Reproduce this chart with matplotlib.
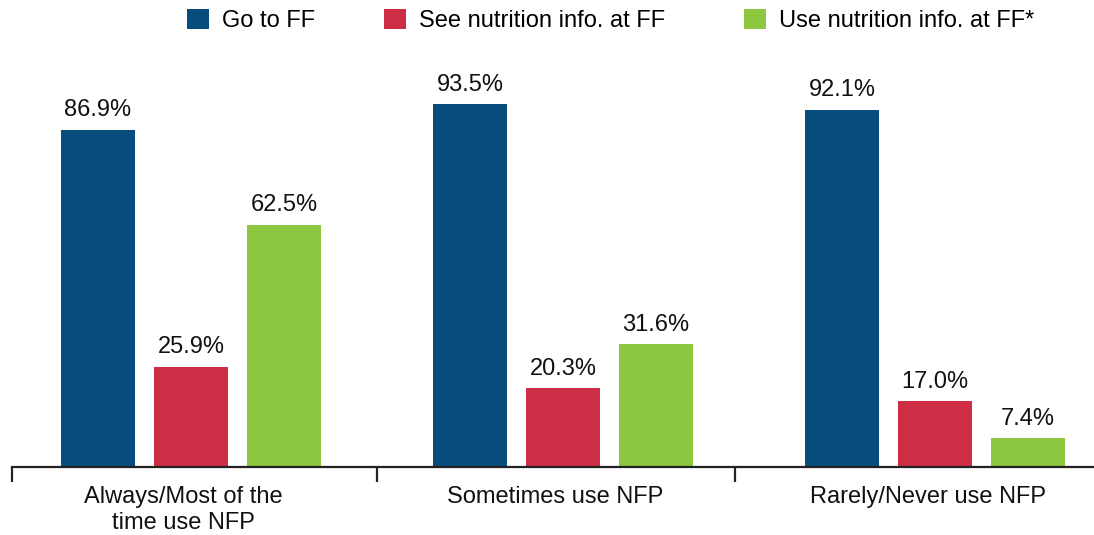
import matplotlib
matplotlib.use("Agg")
import matplotlib.pyplot as plt
import numpy as np

plt.rcParams['font.family'] = ['Liberation Sans', 'DejaVu Sans']

categories = ["Always/Most of the\ntime use NFP", "Sometimes use NFP", "Rarely/Never use NFP"]
series_names = ["Go to FF", "See nutrition info. at FF", "Use nutrition info. at FF*"]
go_to_ff = [86.9, 93.5, 92.1]
see_info = [25.9, 20.3, 17.0]
use_info = [62.5, 31.6, 7.4]
colors = ["#064C7C", "#CE2D46", "#8DC63F"]

W, H = 1094, 535
fig = plt.figure(figsize=(W / 100, H / 100), dpi=100)
ax_left, ax_right = 12, 1094
ax_bottom_px, ax_top_px = 467, 79
ax = fig.add_axes([ax_left / W, (H - ax_bottom_px) / H,
                   (ax_right - ax_left) / W, (ax_bottom_px - ax_top_px) / H])

x = np.arange(len(categories))
offset = 0.25
width = 0.2
handles = []
for i, (vals, name, c) in enumerate(zip([go_to_ff, see_info, use_info], series_names, colors)):
    bars = ax.bar(x + (i - 1) * offset, vals, width, color=c, label=name)
    handles.append(bars)
    ax.bar_label(bars, labels=[f"{v:.1f}%" for v in vals], padding=6, fontsize=17, color="#111111")

ax.set_ylim(0, 100)
ax.set_xlim(-0.481, 2.427)
for s in ["top", "right", "left"]:
    ax.spines[s].set_visible(False)
ax.spines["bottom"].set_linewidth(1.6)
ax.spines["bottom"].set_color("#222222")
ax.set_yticks([])

ax.set_xticks([-0.481, 0.5, 1.462])
ax.set_xticklabels([])
ax.tick_params(axis="x", which="major", length=11, width=1.6, color="#222222")
ax.set_xticks(x - 0.02, minor=True)
ax.set_xticklabels(categories, minor=True, fontsize=17, color="#111111")
ax.tick_params(axis="x", which="minor", length=0, pad=14)

# legend entries placed individually (matching the uneven spacing of the reference)
legend_left_px = [187, 384, 744]
for h, name, lx in zip(handles, series_names, legend_left_px):
    fig.legend([h], [name], loc="center left", bbox_to_anchor=(lx / W, 1 - 20.5 / H),
               frameon=False, fontsize=17, handlelength=0.95, handleheight=0.95,
               handletextpad=0.55, borderaxespad=0, borderpad=0)

fig.savefig("out.png", dpi=100)
